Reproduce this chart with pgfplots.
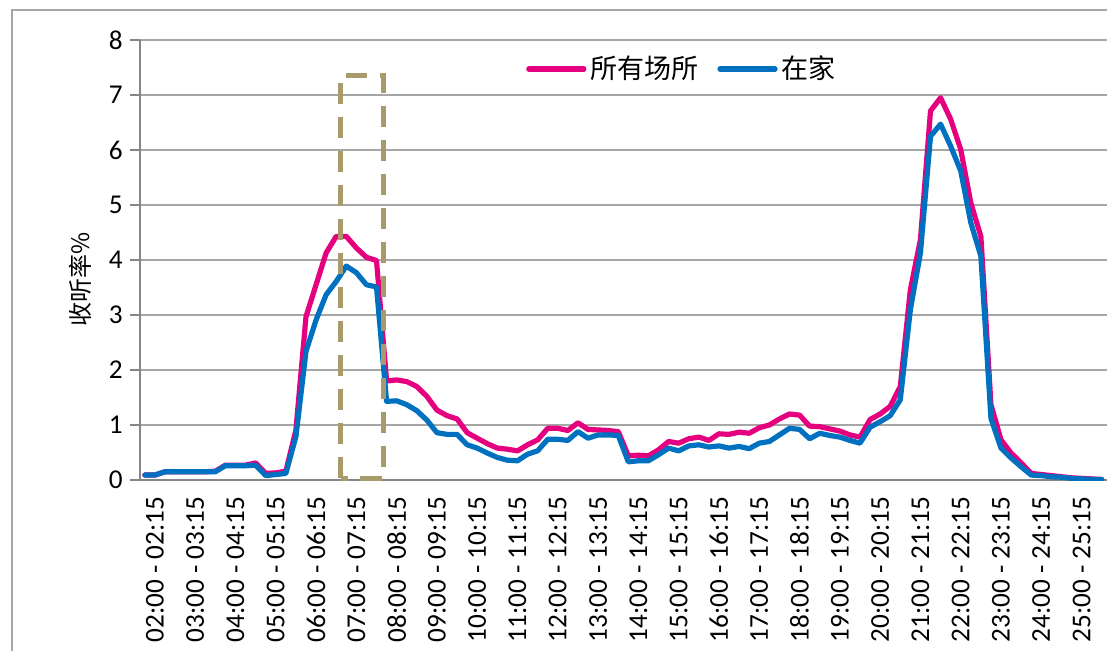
\documentclass[border=0pt]{standalone}
\usepackage{fontspec}
\setmainfont{Carlito}
\newfontfamily\cjk{Noto Sans CJK SC}
\usepackage{pgfplots}
\usepackage{pgfplotstable}
\pgfplotsset{compat=1.18}

\definecolor{allc}{RGB}{228,0,127}
\definecolor{homec}{RGB}{0,112,192}
\definecolor{boxc}{RGB}{168,155,107}
\definecolor{gridc}{RGB}{166,166,166}
\definecolor{axisc}{RGB}{134,134,134}

% 15-minute slots, 02:00 - 26:00; columns: slot, all places, at home
\pgfplotstableread{
idx all home
0 0.09 0.09
1 0.09 0.09
2 0.15 0.15
3 0.15 0.15
4 0.15 0.15
5 0.15 0.15
6 0.15 0.15
7 0.16 0.15
8 0.27 0.26
9 0.27 0.26
10 0.27 0.26
11 0.31 0.27
12 0.12 0.08
13 0.13 0.10
14 0.16 0.12
15 0.91 0.79
16 2.97 2.34
17 3.55 2.91
18 4.13 3.37
19 4.43 3.61
20 4.43 3.89
21 4.22 3.77
22 4.05 3.55
23 3.99 3.51
24 1.80 1.43
25 1.82 1.44
26 1.79 1.37
27 1.70 1.26
28 1.52 1.09
29 1.27 0.86
30 1.17 0.83
31 1.11 0.83
32 0.86 0.64
33 0.76 0.58
34 0.66 0.49
35 0.58 0.41
36 0.56 0.36
37 0.53 0.35
38 0.64 0.47
39 0.73 0.53
40 0.94 0.74
41 0.94 0.74
42 0.90 0.72
43 1.04 0.88
44 0.92 0.76
45 0.91 0.82
46 0.90 0.82
47 0.88 0.81
48 0.44 0.33
49 0.45 0.35
50 0.44 0.35
51 0.55 0.46
52 0.70 0.58
53 0.67 0.53
54 0.75 0.62
55 0.78 0.64
56 0.72 0.60
57 0.84 0.62
58 0.83 0.58
59 0.87 0.61
60 0.85 0.57
61 0.95 0.67
62 1.00 0.70
63 1.11 0.82
64 1.20 0.94
65 1.18 0.92
66 0.98 0.75
67 0.97 0.85
68 0.93 0.81
69 0.89 0.78
70 0.82 0.72
71 0.78 0.67
72 1.10 0.96
73 1.20 1.06
74 1.34 1.17
75 1.70 1.46
76 3.46 3.10
77 4.37 4.13
78 6.71 6.25
79 6.95 6.47
80 6.56 6.07
81 6.01 5.62
82 5.04 4.68
83 4.43 4.07
84 1.37 1.12
85 0.73 0.58
86 0.49 0.40
87 0.31 0.24
88 0.12 0.09
89 0.10 0.08
90 0.08 0.06
91 0.06 0.05
92 0.04 0.03
93 0.03 0.02
94 0.02 0.01
95 0.01 0.01
}\listen

\begin{document}
\begin{tikzpicture}
\useasboundingbox (0,0) rectangle (553.5pt,325pt);
\draw[gridc, line width=1pt] (6pt,-5pt) -- (6pt,320pt) -- (560pt,320pt);
\begin{axis}[
  at={(69.9pt,85pt)}, anchor=south west,
  scale only axis, width=483.5pt, height=220pt,
  xmin=-0.5, xmax=95.5, ymin=0, ymax=8,
  ytick={0,1,...,8},
  xtick={0,4,...,92},
  xticklabels={02:00 - 02:15,03:00 - 03:15,04:00 - 04:15,05:00 - 05:15,06:00 - 06:15,07:00 - 07:15,08:00 - 08:15,09:00 - 09:15,10:00 - 10:15,11:00 - 11:15,12:00 - 12:15,13:00 - 13:15,14:00 - 14:15,15:00 - 15:15,16:00 - 16:15,17:00 - 17:15,18:00 - 18:15,19:00 - 19:15,20:00 - 20:15,21:00 - 21:15,22:00 - 22:15,23:00 - 23:15,24:00 - 24:15,25:00 - 25:15},
  axis x line*=bottom, axis y line*=left,
  axis line style={axisc, line width=1pt, -},
  ymajorgrids, grid style={gridc, line width=1pt},
  tick align=outside, major tick length=5pt,
  x tick style={draw=none},
  y tick style={axisc, line width=1pt},
  /pgf/number format/assume math mode=true,
  ticklabel style={font=\fontsize{13.6}{15}\selectfont, black},
  xticklabel style={rotate=90, anchor=east, yshift=-5pt},
  ylabel={\cjk 收听率\%},
  ylabel style={font=\fontsize{12}{13}\selectfont, at={(axis description cs:-0.062,0.455)}, anchor=center},
  legend style={at={(axis description cs:0.393,0.934)}, anchor=west, draw=none, fill=none,
    font=\cjk\fontsize{13.5}{15}\selectfont,
    /tikz/every even column/.append style={column sep=7.5pt}},
  legend columns=2,
  legend image code/.code={\draw[#1] (0pt,0pt) -- (27.5pt,0pt);},
  every axis plot/.append style={line width=2.6pt, line join=round, line cap=round},
]
\addplot[allc, no markers] table[x=idx, y=all] {\listen};
\addlegendentry{所有场所}
\addplot[homec, no markers] table[x=idx, y=home] {\listen};
\addlegendentry{在家}
\draw[boxc, line width=2.5pt, dash pattern=on 10.8pt off 6.2pt]
  (axis cs:19.46,0.03) rectangle (axis cs:23.66,7.36);
\end{axis}
\end{tikzpicture}
\end{document}
